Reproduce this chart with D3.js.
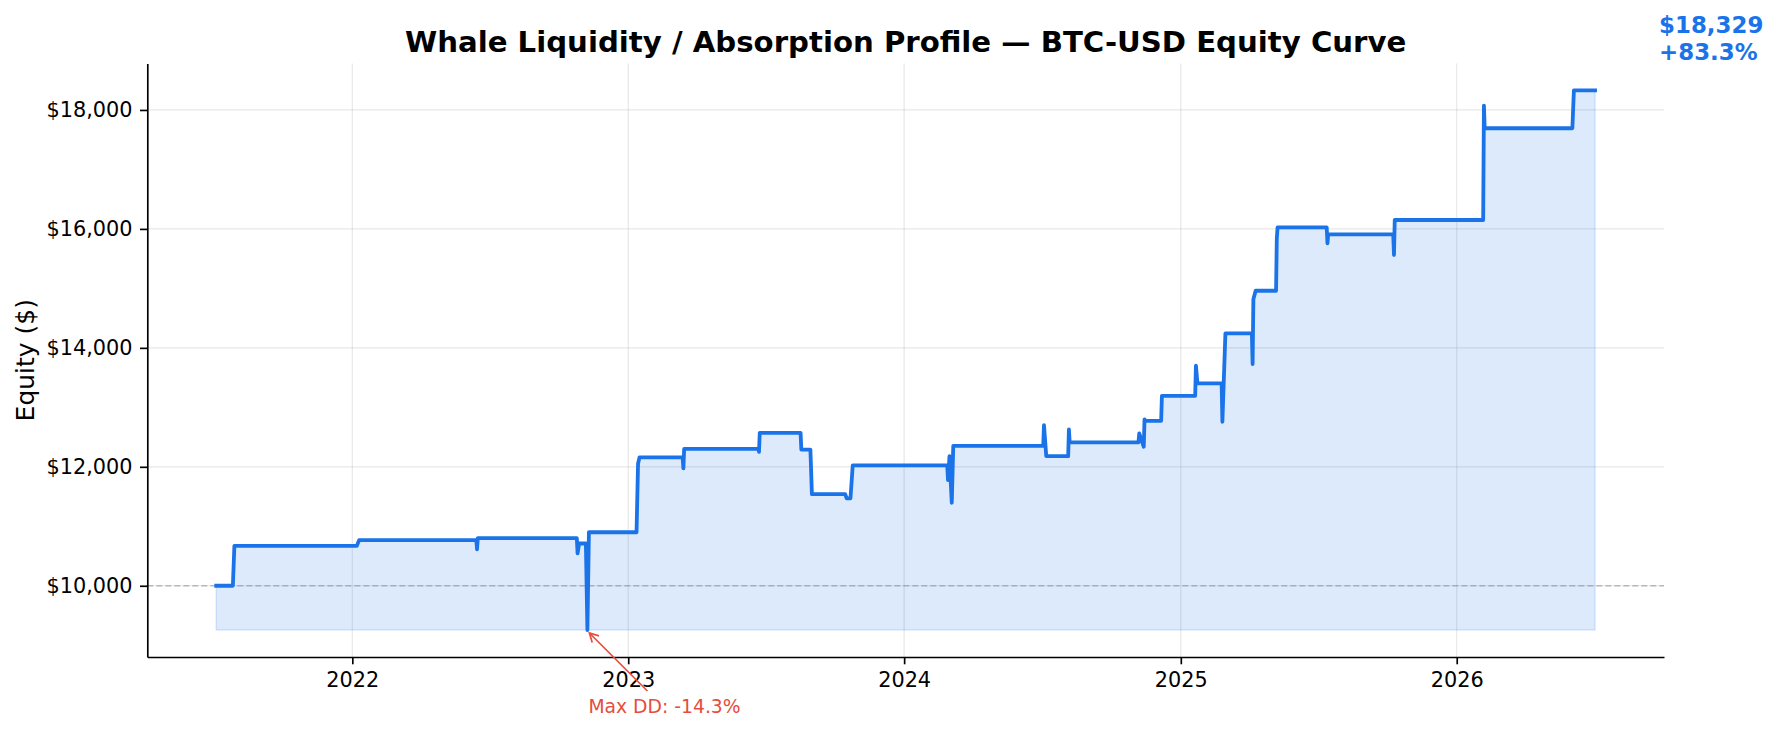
<!DOCTYPE html>
<html>
<head>
<meta charset="utf-8">
<script src="https://cdnjs.cloudflare.com/ajax/libs/d3/7.8.5/d3.min.js"></script>
<style>
  html, body { margin: 0; padding: 0; background: #fff; }
  svg { display: block; font-family: "DejaVu Sans", sans-serif; }
</style>
</head>
<body>
<div id="chart-wrap"></div>
<script>
// Equity curve vertices
const dates = [
  '2021-07-05', '2021-07-27', '2021-07-29', '2022-01-07', '2022-01-10', '2022-06-14', '2022-06-15', '2022-06-16',
  '2022-10-25', '2022-10-26', '2022-10-28', '2022-11-06', '2022-11-08', '2022-11-10', '2023-01-12', '2023-01-14',
  '2023-01-16', '2023-03-14', '2023-03-15', '2023-03-16', '2023-06-22', '2023-06-23', '2023-06-24', '2023-08-17',
  '2023-08-18', '2023-08-30', '2023-09-01', '2023-10-15', '2023-10-17', '2023-10-22', '2023-10-25', '2024-02-27',
  '2024-02-28', '2024-03-01', '2024-03-04', '2024-03-06', '2024-07-03', '2024-07-04', '2024-07-07', '2024-08-05',
  '2024-08-06', '2024-08-07', '2024-11-06', '2024-11-07', '2024-11-13', '2024-11-14', '2024-11-15', '2024-12-06',
  '2024-12-07', '2025-01-20', '2025-01-21', '2025-01-23', '2025-02-24', '2025-02-25', '2025-03-01', '2025-04-05',
  '2025-04-06', '2025-04-07', '2025-04-10', '2025-05-07', '2025-05-08', '2025-05-09', '2025-07-13', '2025-07-14',
  '2025-07-15', '2025-10-09', '2025-10-10', '2025-10-11', '2026-02-05', '2026-02-06', '2026-02-07', '2026-06-03',
  '2026-06-05', '2026-07-03'
];
const equity = [
  10000, 10000, 10671, 10671, 10767, 10767, 10611, 10800,
  10800, 10543, 10711, 10711, 9256, 10900, 10900, 12057,
  12160, 12160, 11973, 12303, 12303, 12252, 12572, 12572,
  12290, 12290, 11541, 11541, 11469, 11469, 12024, 12024,
  11776, 12180, 11395, 12353, 12353, 12701, 12180, 12180,
  12629, 12410, 12410, 12562, 12337, 12797, 12774, 12774,
  13194, 13194, 13699, 13403, 13403, 12757, 14244, 14244,
  13728, 14816, 14960, 14960, 15842, 16027, 16027, 15758,
  15909, 15909, 15561, 16150, 16150, 18073, 17692, 17692,
  18329, 18329
];
const startEquity = 10000;
const yTicks = [10000, 12000, 14000, 16000, 18000];
const xTickYears = [2022, 2023, 2024, 2025, 2026];
const titleText = 'Whale Liquidity / Absorption Profile — BTC-USD Equity Curve';
const yLabelText = 'Equity ($)';

const width = 1776;
const height = 733;
const margin = { top: 63.4, right: 112, bottom: 76, left: 147.3 };
const innerW = width - margin.left - margin.right;
const innerH = height - margin.top - margin.bottom;

const blue = '#1a73e8';
const red = '#e74c3c';

const parseDate = d3.timeParse('%Y-%m-%d');
const data = dates.map((d, i) => ({ date: parseDate(d), value: equity[i] }));

// Max drawdown from the running peak
let peak = -Infinity;
let maxDD = 0;
let ddPoint = data[0];
data.forEach((d) => {
  peak = Math.max(peak, d.value);
  const dd = d.value / peak - 1;
  if (dd < maxDD) { maxDD = dd; ddPoint = d; }
});

const minVal = d3.min(data, d => d.value);
const maxVal = d3.max(data, d => d.value);
const last = data[data.length - 1];

// Scales with matplotlib-like 5% margins
const [t0, t1] = d3.extent(data, d => d.date);
const tPad = (t1 - t0) * 0.05;
const x = d3.scaleTime()
  .domain([new Date(+t0 - tPad), new Date(+t1 + tPad)])
  .range([0, innerW]);

const vPad = (maxVal - minVal) * 0.05;
const y = d3.scaleLinear()
  .domain([minVal - vPad, maxVal + vPad])
  .range([innerH, 0]);

const svg = d3.select('#chart-wrap').append('svg')
  .attr('width', width)
  .attr('height', height);

const g = svg.append('g')
  .attr('transform', `translate(${margin.left},${margin.top})`);

const xTickDates = xTickYears.map(yr => new Date(yr, 0, 1));

// Grid
g.append('g')
  .attr('class', 'grid-x')
  .selectAll('line')
  .data(xTickDates)
  .join('line')
  .attr('x1', d => x(d)).attr('x2', d => x(d))
  .attr('y1', 0).attr('y2', innerH)
  .attr('stroke', '#b0b0b0')
  .attr('stroke-opacity', 0.3)
  .attr('stroke-width', 1.2);

g.append('g')
  .attr('class', 'grid-y')
  .selectAll('line')
  .data(yTicks)
  .join('line')
  .attr('x1', 0).attr('x2', innerW)
  .attr('y1', d => y(d)).attr('y2', d => y(d))
  .attr('stroke', '#b0b0b0')
  .attr('stroke-opacity', 0.3)
  .attr('stroke-width', 1.2);

// Fill under curve
const area = d3.area()
  .x(d => x(d.date))
  .y0(y(minVal))
  .y1(d => y(d.value));

g.append('path')
  .datum(data)
  .attr('d', area)
  .attr('fill', blue)
  .attr('fill-opacity', 0.15)
  .attr('stroke', blue)
  .attr('stroke-opacity', 0.15)
  .attr('stroke-width', 1.5);

// Starting capital line
g.append('line')
  .attr('x1', 0).attr('x2', innerW)
  .attr('y1', y(startEquity)).attr('y2', y(startEquity))
  .attr('stroke', '#808080')
  .attr('stroke-opacity', 0.5)
  .attr('stroke-width', 1.5)
  .attr('stroke-dasharray', '6,3');

// Equity line
const line = d3.line()
  .x(d => x(d.date))
  .y(d => y(d.value));

g.append('path')
  .datum(data)
  .attr('d', line)
  .attr('fill', 'none')
  .attr('stroke', blue)
  .attr('stroke-width', 3.8)
  .attr('stroke-linejoin', 'round')
  .attr('stroke-linecap', 'square');

// Axes (left + bottom spines only)
const xAxis = g.append('g')
  .attr('transform', `translate(0,${innerH})`)
  .call(d3.axisBottom(x).tickValues(xTickDates).tickFormat(d3.timeFormat('%Y')).tickSize(7.3).tickSizeOuter(0).tickPadding(8));

const yAxis = g.append('g')
  .call(d3.axisLeft(y).tickValues(yTicks).tickFormat(d => '$' + d3.format(',')(d)).tickSize(7.3).tickSizeOuter(0).tickPadding(7.5));

[xAxis, yAxis].forEach((ax) => {
  ax.attr('font-family', '"DejaVu Sans", sans-serif').attr('font-size', 20.8);
  ax.select('.domain').attr('stroke', '#000').attr('stroke-width', 1.67);
  ax.selectAll('.tick line').attr('stroke', '#000').attr('stroke-width', 1.67);
  ax.selectAll('.tick text').attr('fill', '#000');
});

// Titles
svg.append('text')
  .attr('x', margin.left + innerW / 2)
  .attr('y', 52)
  .attr('text-anchor', 'middle')
  .attr('font-size', 29.2)
  .attr('font-weight', 'bold')
  .text(titleText);

svg.append('text')
  .attr('transform', `translate(33.5,${margin.top + innerH / 2}) rotate(-90)`)
  .attr('text-anchor', 'middle')
  .attr('font-size', 25)
  .text(yLabelText);

// Final value label
const endLabel = svg.append('text')
  .attr('font-size', 22.9)
  .attr('font-weight', 'bold')
  .attr('fill', blue);

const endX = margin.left + x(last.date) + 64;
const endY = margin.top + y(last.value);
endLabel.append('tspan')
  .attr('x', endX).attr('y', endY - 57)
  .text('$' + d3.format(',')(last.value));
endLabel.append('tspan')
  .attr('x', endX).attr('y', endY - 30)
  .text('+' + ((last.value / startEquity - 1) * 100).toFixed(1) + '%');

// Max drawdown annotation
const ddX = x(ddPoint.date);
const ddY = y(ddPoint.value);
const tail = [ddX + 60, ddY + 61];
const head = [ddX + 2, ddY + 3];
const ang = Math.atan2(head[1] - tail[1], head[0] - tail[0]);
const hl = 10;
const hw = 0.5;

g.append('line')
  .attr('x1', tail[0]).attr('y1', tail[1])
  .attr('x2', head[0]).attr('y2', head[1])
  .attr('stroke', red)
  .attr('stroke-width', 1.7);

g.append('path')
  .attr('d', `M${head[0] - hl * Math.cos(ang - hw)},${head[1] - hl * Math.sin(ang - hw)}L${head[0]},${head[1]}L${head[0] - hl * Math.cos(ang + hw)},${head[1] - hl * Math.sin(ang + hw)}`)
  .attr('fill', 'none')
  .attr('stroke', red)
  .attr('stroke-width', 1.7);

g.append('text')
  .attr('x', ddX + 1)
  .attr('y', ddY + 83)
  .attr('font-size', 18.75)
  .attr('fill', red)
  .text('Max DD: ' + (maxDD * 100).toFixed(1) + '%');
</script>
</body>
</html>
